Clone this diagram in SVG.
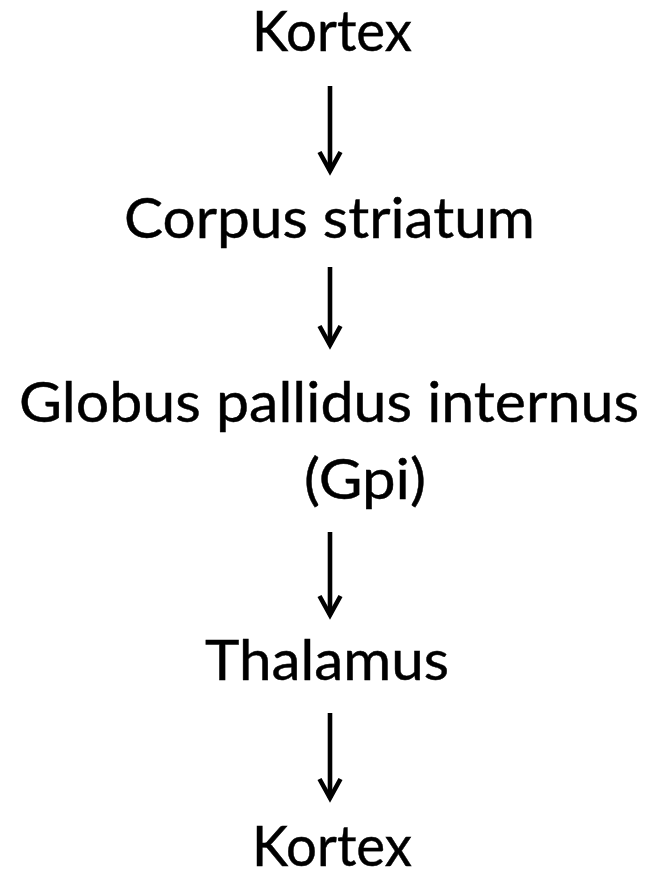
<svg xmlns="http://www.w3.org/2000/svg" width="649" height="869" viewBox="0 0 649 869">
  <style>
    .lbl { font-family: Lato, "Open Sans", "Liberation Sans", sans-serif; font-size: 56.5px; fill: #000; stroke: #000; stroke-width: 0.45px; }
    .conn { stroke: #000; stroke-width: 4.6; fill: none; }
  </style>
  <defs>
    <marker id="head" markerUnits="userSpaceOnUse" viewBox="-30 -20 40 40" markerWidth="40" markerHeight="40" refX="0" refY="0" orient="auto" overflow="visible">
      <path d="M-19,-10.5 L0,0 L-19,10.5" fill="none" stroke="#000" stroke-width="4.6" stroke-linejoin="miter" stroke-miterlimit="10"/>
    </marker>
  </defs>
  <rect width="649" height="869" fill="#fff"/>
  <g id="connectors">
    <line class="conn" x1="330" y1="86" x2="330" y2="171" marker-end="url(#head)"/>
    <line class="conn" x1="330" y1="267" x2="330" y2="345" marker-end="url(#head)"/>
    <line class="conn" x1="330" y1="532" x2="330" y2="615" marker-end="url(#head)"/>
    <line class="conn" x1="330" y1="713" x2="330" y2="798" marker-end="url(#head)"/>
  </g>
  <g id="kortex-top"><text class="lbl" x="252" y="51" textLength="160" lengthAdjust="spacingAndGlyphs">Kortex</text></g>
  <g id="corpus-striatum"><text class="lbl" x="124" y="238" textLength="411" lengthAdjust="spacingAndGlyphs">Corpus striatum</text></g>
  <g id="gpi">
    <text class="lbl" x="19" y="422" textLength="620" lengthAdjust="spacingAndGlyphs">Globus pallidus internus</text>
    <text class="lbl" x="304" y="499" textLength="122" lengthAdjust="spacingAndGlyphs">(Gpi)</text>
  </g>
  <g id="thalamus"><text class="lbl" x="205" y="680" textLength="244" lengthAdjust="spacingAndGlyphs">Thalamus</text></g>
  <g id="kortex-bottom"><text class="lbl" x="252" y="866" textLength="160" lengthAdjust="spacingAndGlyphs">Kortex</text></g>
</svg>
